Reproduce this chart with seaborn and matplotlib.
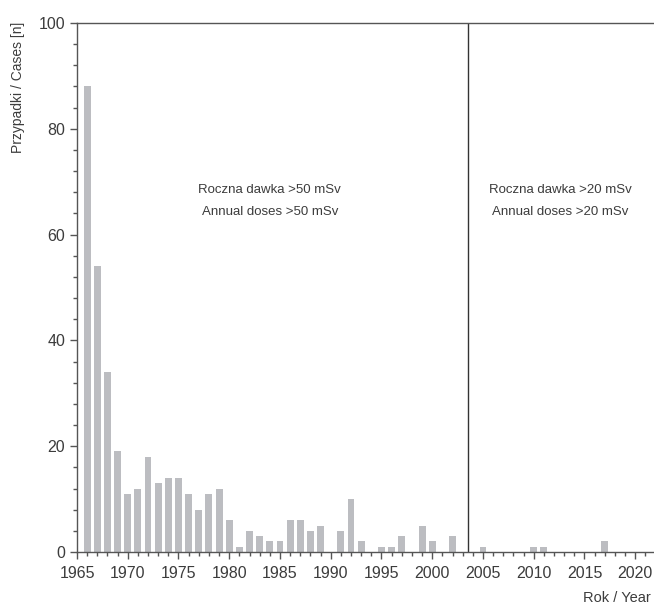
import matplotlib
matplotlib.use('Agg')
import matplotlib.pyplot as plt
from matplotlib.ticker import MultipleLocator
import seaborn as sns

# cases per year
years = list(range(1966, 2022))
cases = [88, 54, 34, 19, 11, 12, 18, 13, 14, 14,
         11, 8, 11, 12, 6, 1, 4, 3, 2, 2,
         6, 6, 4, 5, 0, 4, 10, 2, 0, 1,
         1, 3, 0, 5, 2, 0, 3, 0, 0, 1,
         0, 0, 0, 0, 1, 1, 0, 0, 0, 0,
         0, 2, 0, 0, 0, 0]

split_year = 2003.5
label_old = ['Roczna dawka >50 mSv', 'Annual doses >50 mSv']
label_new = ['Roczna dawka >20 mSv', 'Annual doses >20 mSv']

sns.set_style('ticks')
plt.rcParams['font.family'] = ['Liberation Sans', 'DejaVu Sans']

txt = '#3c3c3c'
fig = plt.figure(figsize=(6.54, 6.14), dpi=100)
ax = fig.add_axes([77 / 654, 62 / 614, 1 - 77 / 654, (552 - 23) / 614])

sns.barplot(x=years, y=cases, native_scale=True, color='#bcbdc1',
            saturation=1, width=0.68, linewidth=0, ax=ax)

ax.axvline(split_year, color='#333333', lw=1)
# two-line labels for each period
for xc, lines in [(1984, label_old), (2012.6, label_new)]:
    ax.text(xc, 68.5, lines[0], ha='center', va='center', fontsize=9.5, color=txt)
    ax.text(xc, 64.3, lines[1], ha='center', va='center', fontsize=9.5, color=txt)

ax.set_xlim(1965, 2021.85)
ax.set_ylim(0, 100)
ax.xaxis.set_major_locator(MultipleLocator(5))
ax.xaxis.set_minor_locator(MultipleLocator(1))
ax.yaxis.set_major_locator(MultipleLocator(20))
ax.yaxis.set_minor_locator(MultipleLocator(4))
ax.tick_params(which='major', length=5, width=1, colors='#555555', labelcolor=txt, labelsize=11.5)
ax.tick_params(axis='x', which='major', pad=5)
ax.tick_params(which='minor', length=3, width=1, colors='#555555')
ax.set_xlabel('')
ax.set_ylabel('')

for s in ['left', 'bottom', 'top']:
    ax.spines[s].set_color('#555555')
    ax.spines[s].set_linewidth(1)
ax.spines['right'].set_visible(False)

fig.text(651 / 654, 1 - 598 / 614, 'Rok / Year', ha='right', va='center', fontsize=10.5, color=txt)
fig.text(18 / 654, 1 - 87 / 614, 'Przypadki / Cases [n]', rotation=90, ha='center', va='center',
         fontsize=10, color=txt)

fig.savefig('out.png', dpi=100)
